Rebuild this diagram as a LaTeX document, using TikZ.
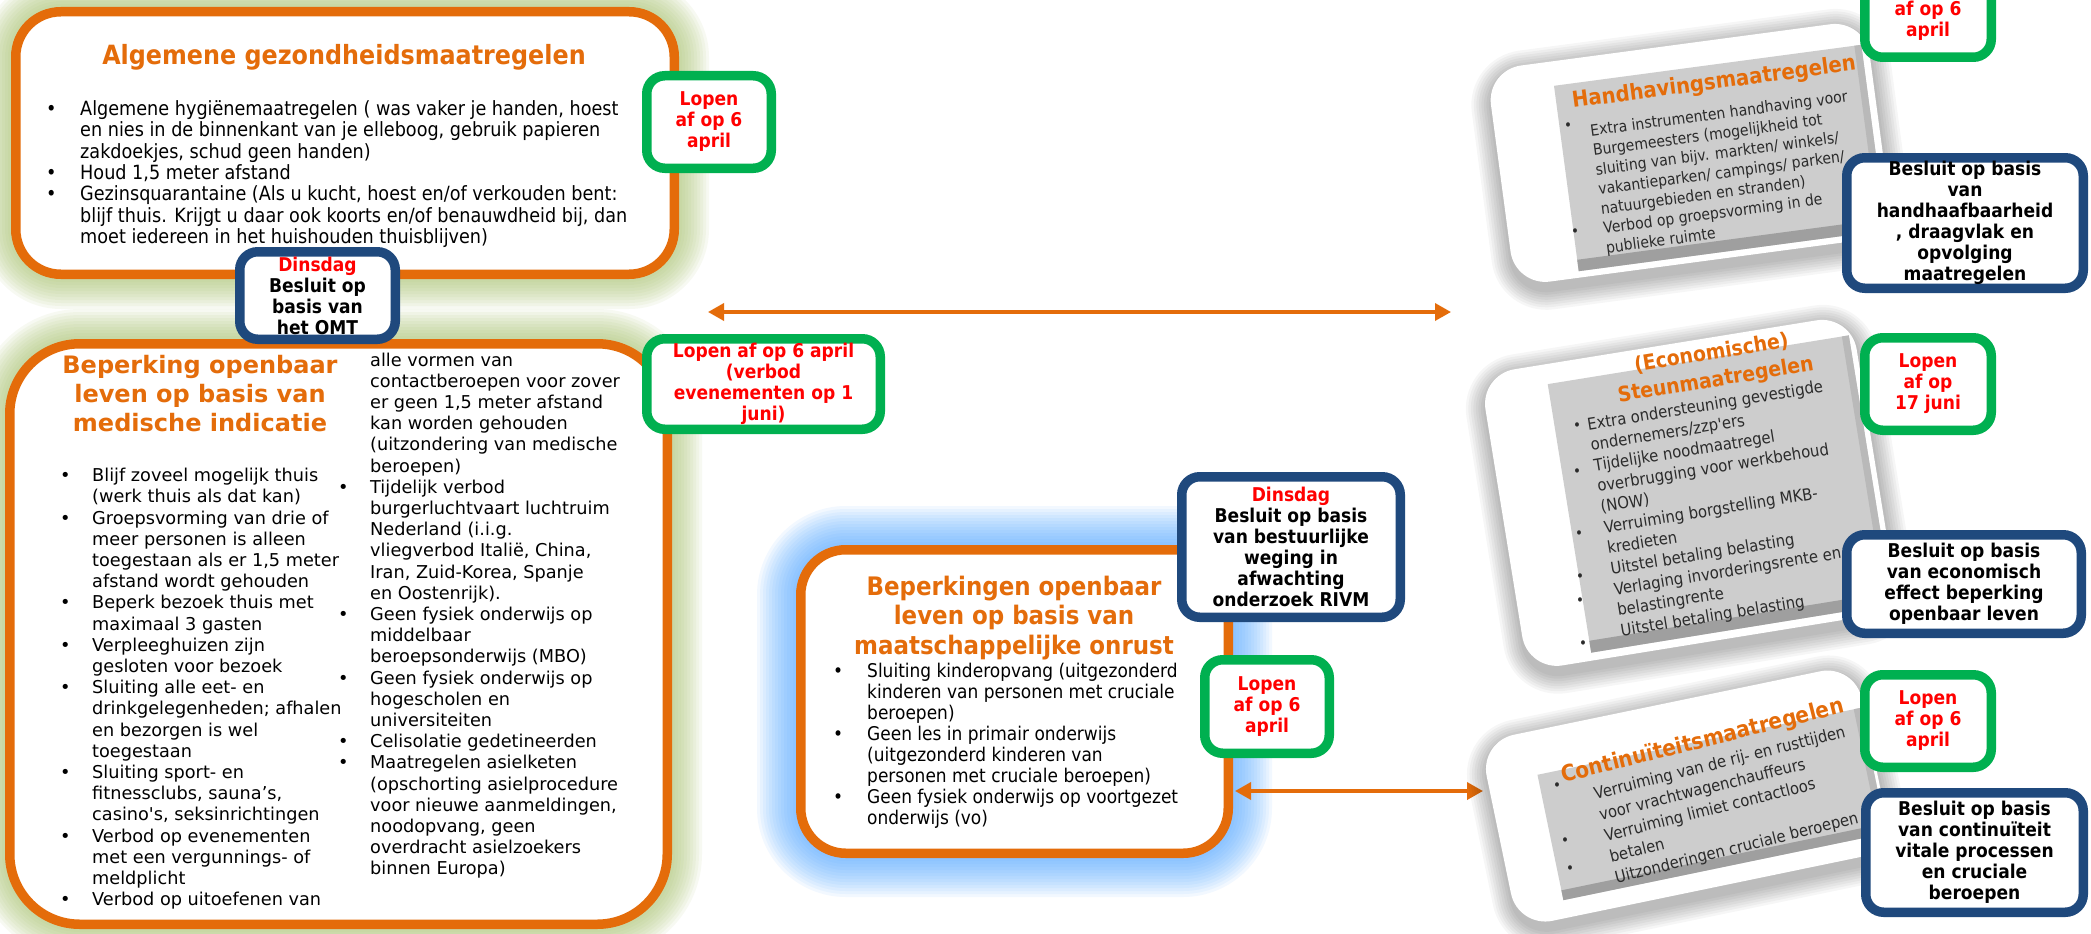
\documentclass[tikz,border=0pt]{standalone}
\usepackage{fontspec}
\setmainfont{DejaVu Sans}
\newfontfamily\ver{DejaVu Sans}
\newfontfamily\tah[FakeStretch=0.9]{DejaVu Sans}
\usetikzlibrary{arrows.meta}
\definecolor{orng}{HTML}{E46C0A}
\definecolor{grn}{HTML}{00B050}
\definecolor{blu}{HTML}{1F497D}
\definecolor{rd}{HTML}{FF0000}
\definecolor{glowG}{HTML}{A9C46C}
\definecolor{glowB}{HTML}{4DA6FF}
\definecolor{facec}{HTML}{CDCDCD}
\definecolor{ptxt}{HTML}{2B2B2B}
\newcommand\myhg{30pt}
\newcommand\mybl[1]{\makebox[\myhg][l]{\textbullet}#1}
\newcommand\mycl[1]{\hspace*{\myhg}#1}
\newcommand\myglow[8]{\foreach \r in {1,...,#7}{\fill[#1,opacity=#8,rounded corners=#6+\r*3] (#2-\r*3,#3-\r*3) rectangle (#4+\r*3,#5+\r*3);}}
\tikzset{
 bigbox/.style={draw=orng, line width=9.5pt, fill=white, inner sep=0pt},
 gbox/.style={draw=grn, line width=9.5pt, fill=white, rounded corners=18pt, align=center, text=rd, inner sep=0pt, font=\tah\bfseries\fontsize{19}{21}\selectfont},
 bbox/.style={draw=blu, line width=9.5pt, fill=white, rounded corners=18pt, align=center, text=black, inner sep=0pt, font=\tah\bfseries\fontsize{19}{21}\selectfont},
 ttl/.style={text=orng, align=center, inner sep=0pt},
 bodytxt/.style={align=left, anchor=north west, inner sep=0pt, text=black},
 ptitle/.style={text=orng, align=center, inner sep=0pt},
 pbody/.style={text=ptxt, inner sep=0pt, align=left, anchor=north west},
 pbul/.style={text=ptxt, inner sep=0pt, font=\tah\fontsize{15}{18}\selectfont},
 arr/.style={draw=orng, line width=3.5pt, {Triangle[length=16pt,width=17pt]}-{Triangle[length=16pt,width=17pt]}},
}
\begin{document}
\begin{tikzpicture}[x=1pt,y=-1pt]
\useasboundingbox (0,0) rectangle (2091,934);
\clip (0,0) rectangle (2091,934);
\fill[white] (0,0) rectangle (2091,934);
% glows
\myglow{glowG}{11}{7}{679}{279}{50}{10}{0.085}
\myglow{glowG}{5}{339}{672}{929}{75}{10}{0.085}
\myglow{glowB}{796}{545}{1233}{858}{50}{13}{0.07}
% main boxes
\node[bigbox, rounded corners=45pt, minimum width=658.5pt, minimum height=262.5pt] (boxA) at (345,143) {};
\node[bigbox, rounded corners=70pt, minimum width=657.5pt, minimum height=580.5pt] (boxB) at (338.5,634) {};
\node[bigbox, rounded corners=45pt, minimum width=427.5pt, minimum height=303.5pt] (boxC) at (1014.5,701.5) {};
% box A texts
\node[ttl, font=\tah\bfseries\fontsize{26.5}{30}\selectfont] (tA) at (344,57) {Algemene gezondheidsmaatregelen};
\node[bodytxt, font=\renewcommand\myhg{34pt}\tah\fontsize{19.6}{21.3}\selectfont] (bA) at (46,100.4) {\strut\mybl{Algemene hygiënemaatregelen ( was vaker je handen, hoest}\\
\mycl{en nies in de binnenkant van je elleboog, gebruik papieren}\\
\mycl{zakdoekjes, schud geen handen)}\\
\mybl{Houd 1,5 meter afstand}\\
\mybl{Gezinsquarantaine (Als u kucht, hoest en/of verkouden bent:}\\
\mycl{blijf thuis. Krijgt u daar ook koorts en/of benauwdheid bij, dan}\\
\mycl{moet iedereen in het huishouden thuisblijven)}};
% box B texts
\node[ttl, font=\ver\bfseries\fontsize{24}{29}\selectfont] (tB) at (200,394) {Beperking openbaar\\leven op basis van\\medische indicatie};
\node[bodytxt, font=\renewcommand\myhg{32pt}\ver\fontsize{17.7}{21.2}\selectfont] (bBl) at (60,466.7) {\strut\mybl{Blijf zoveel mogelijk thuis}\\
\mycl{(werk thuis als dat kan)}\\
\mybl{Groepsvorming van drie of}\\
\mycl{meer personen is alleen}\\
\mycl{toegestaan als er 1,5 meter}\\
\mycl{afstand wordt gehouden}\\
\mybl{Beperk bezoek thuis met}\\
\mycl{maximaal 3 gasten}\\
\mybl{Verpleeghuizen zijn}\\
\mycl{gesloten voor bezoek}\\
\mybl{Sluiting alle eet- en}\\
\mycl{drinkgelegenheden; afhalen}\\
\mycl{en bezorgen is wel}\\
\mycl{toegestaan}\\
\mybl{Sluiting sport- en}\\
\mycl{fitnessclubs, sauna’s,}\\
\mycl{casino's, seksinrichtingen}\\
\mybl{Verbod op evenementen}\\
\mycl{met een vergunnings- of}\\
\mycl{meldplicht}\\
\mybl{Verbod op uitoefenen van}};
\node[bodytxt, font=\renewcommand\myhg{32pt}\ver\fontsize{17.7}{21.2}\selectfont] (bBr) at (338,351) {\strut\mycl{alle vormen van}\\
\mycl{contactberoepen voor zover}\\
\mycl{er geen 1,5 meter afstand}\\
\mycl{kan worden gehouden}\\
\mycl{(uitzondering van medische}\\
\mycl{beroepen)}\\
\mybl{Tijdelijk verbod}\\
\mycl{burgerluchtvaart luchtruim}\\
\mycl{Nederland (i.i.g.}\\
\mycl{vliegverbod Italië, China,}\\
\mycl{Iran, Zuid-Korea, Spanje}\\
\mycl{en Oostenrijk).}\\
\mybl{Geen fysiek onderwijs op}\\
\mycl{middelbaar}\\
\mycl{beroepsonderwijs (MBO)}\\
\mybl{Geen fysiek onderwijs op}\\
\mycl{hogescholen en}\\
\mycl{universiteiten}\\
\mybl{Celisolatie gedetineerden}\\
\mybl{Maatregelen asielketen}\\
\mycl{(opschorting asielprocedure}\\
\mycl{voor nieuwe aanmeldingen,}\\
\mycl{noodopvang, geen}\\
\mycl{overdracht asielzoekers}\\
\mycl{binnen Europa)}};
% box C texts
\node[ttl, font=\tah\bfseries\fontsize{25.5}{29.5}\selectfont] (tC) at (1014,618) {Beperkingen openbaar\\leven op basis van\\maatschappelijke onrust};
\node[bodytxt, font=\renewcommand\myhg{34pt}\tah\fontsize{18.9}{21}\selectfont] (bC) at (833,662.4) {\strut\mybl{Sluiting kinderopvang (uitgezonderd}\\
\mycl{kinderen van personen met cruciale}\\
\mycl{beroepen)}\\
\mybl{Geen les in primair onderwijs}\\
\mycl{(uitgezonderd kinderen van}\\
\mycl{personen met cruciale beroepen)}\\
\mybl{Geen fysiek onderwijs op voortgezet}\\
\mycl{onderwijs (vo)}};
% arrows
\coordinate (a1l) at (708,312);
\coordinate (a1r) at (1451,312);
\draw[arr] (a1l) -- (a1r);
\coordinate (a2l) at (1235,791);
\coordinate (a2r) at (1483,791);
\draw[arr] (a2l) -- (a2r);
% panel 1
\begin{scope}[shift={(1720,158)}, rotate=7.6, transform shape]
 \foreach \r in {1,...,8}{\fill[black, opacity=0.035, rounded corners=35+\r*2.5] (-220-\r*2.5,-118-\r*2.5+5) rectangle (162+\r*2.5,100+\r*2.5+8);}
 \fill[white, rounded corners=35] (-220,-118) rectangle (162,100);
 \fill[facec] (-155,-93.5) rectangle (155,93.5);
 \fill[gray!75] (-155,82) rectangle (155,93.5);
 \fill[gray!55] (148,-93.5) rectangle (155,93.5);
 \node[ptitle, font=\tah\bfseries\fontsize{21.9}{26}\selectfont] (p1t) at (4,-75) {Handhavingsmaatregelen};
 \node[pbody, font=\tah\fontsize{15.6}{19.7}\selectfont] (p1b) at (-125,-52.7) {\strut Extra instrumenten handhaving voor\\
Burgemeesters (mogelijkheid tot\\
sluiting van bijv. markten/ winkels/\\
vakantieparken/ campings/ parken/\\
natuurgebieden en stranden)\\
Verbod op groepsvorming in de\\
publieke ruimte};
\end{scope}
\node[pbul] (p1u1) at (1568,127) {\textbullet};
\node[pbul] (p1u2) at (1575,233) {\textbullet};
% panel 2
\begin{scope}[shift={(1720,494)}, rotate=9.2, transform shape]
 \foreach \r in {1,...,8}{\fill[black, opacity=0.035, rounded corners=35+\r*2.5] (-218-\r*2.5,-156-\r*2.5+5) rectangle (158+\r*2.5,144+\r*2.5+8);}
 \fill[white, rounded corners=35] (-218,-156) rectangle (158,144);
 \fill[facec] (-152.5,-136) rectangle (152.5,136);
 \fill[gray!75] (-152.5,124) rectangle (152.5,136);
 \fill[gray!55] (145.5,-136) rectangle (152.5,136);
 \node[ptitle, font=\tah\bfseries\fontsize{21}{27}\selectfont] (p2t) at (14,-126) {(Economische)\\Steunmaatregelen};
 \node[pbody, font=\tah\fontsize{16.5}{20.9}\selectfont] (p2b) at (-120,-99) {\strut Extra ondersteuning gevestigde\\
ondernemers/zzp'ers\\
Tijdelijke noodmaatregel\\
overbrugging voor werkbehoud\\
(NOW)\\
Verruiming borgstelling MKB-\\
kredieten\\
Uitstel betaling belasting\\
Verlaging invorderingsrente en\\
belastingrente\\
Uitstel betaling belasting};
\end{scope}
\node[pbul] (p2u1) at (1577,427) {\textbullet};
\node[pbul] (p2u2) at (1577,473) {\textbullet};
\node[pbul] (p2u3) at (1579,535) {\textbullet};
\node[pbul] (p2u4) at (1580,578) {\textbullet};
\node[pbul] (p2u5) at (1580,602) {\textbullet};
\node[pbul] (p2u6) at (1583,645) {\textbullet};
% panel 3
\begin{scope}[shift={(1712,804)}, rotate=11.7]
 \foreach \r in {1,...,8}{\fill[black, opacity=0.035, rounded corners=35+\r*2.5] (-215-\r*2.5,-108-\r*2.5+5) rectangle (168+\r*2.5,82+\r*2.5+8);}
 \fill[white, rounded corners=35] (-215,-108) rectangle (168,82);
 \fill[facec] (-165,-64) rectangle (165,64);
 \fill[gray!75] (-165,54) rectangle (165,64);
 \fill[gray!55] (158,-64) rectangle (165,64);
\end{scope}
\begin{scope}[shift={(1712,804)}, rotate=14, transform shape]
 \node[ptitle, font=\tah\bfseries\fontsize{22.3}{26}\selectfont] (p3t) at (6,-63) {Continuïteitsmaatregelen};
 \node[pbody, font=\tah\fontsize{16.4}{21.65}\selectfont] (p3b) at (-112,-48) {\strut Verruiming van de rij- en rusttijden\\
voor vrachtwagenchauffeurs\\
Verruiming limiet contactloos\\
betalen\\
Uitzonderingen cruciale beroepen};
\end{scope}
\node[pbul] (p3u1) at (1557,787) {\textbullet};
\node[pbul] (p3u2) at (1565,842) {\textbullet};
\node[pbul] (p3u3) at (1570,870) {\textbullet};
% status boxes
\node[gbox, minimum width=124.5pt, minimum height=92.5pt] (gA) at (709,122) {Lopen\\af op 6\\april};
\node[bbox, minimum width=155.5pt, minimum height=87.5pt] (bxA) at (317.5,295.5) {\textcolor{rd}{Dinsdag}\\Besluit op\\basis van\\het OMT};
\node[gbox, minimum width=233.5pt, minimum height=90.5pt] (gB) at (763.5,384) {Lopen af op 6 april\\(verbod\\evenementen op 1\\juni)};
\node[bbox, minimum width=218.5pt, minimum height=140.5pt] (bxC) at (1291,547) {\textcolor{rd}{Dinsdag}\\Besluit op basis\\van bestuurlijke\\weging in\\afwachting\\onderzoek RIVM};
\node[gbox, minimum width=124.5pt, minimum height=93.5pt] (gC) at (1267,706.5) {Lopen\\af op 6\\april};
\node[gbox, minimum width=126.5pt, minimum height=92.5pt] (gR1) at (1928,11) {Lopen\\af op 6\\april};
\node[bbox, minimum width=236.5pt, minimum height=130.5pt] (bR1) at (1965,223) {Besluit op basis\\van\\handhaafbaarheid\\, draagvlak en\\opvolging\\maatregelen};
\node[gbox, minimum width=126.5pt, minimum height=92.5pt] (gR2) at (1928,384) {Lopen\\af op\\17 juni};
\node[bbox, minimum width=234.5pt, minimum height=98.5pt] (bR2) at (1964,584) {Besluit op basis\\van economisch\\effect beperking\\openbaar leven};
\node[gbox, minimum width=126.5pt, minimum height=92.5pt] (gR3) at (1928,721) {Lopen\\af op 6\\april};
\node[bbox, minimum width=217.5pt, minimum height=119.5pt] (bR3) at (1974.5,852.5) {Besluit op basis\\van continuïteit\\vitale processen\\en cruciale\\beroepen};
\end{tikzpicture}
\end{document}
